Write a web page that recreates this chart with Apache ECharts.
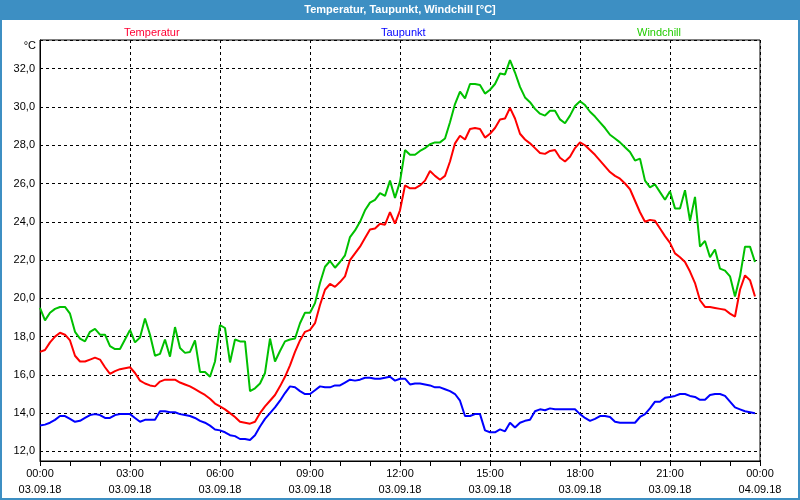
<!DOCTYPE html>
<html>
<head>
<meta charset="utf-8">
<title>Temperatur, Taupunkt, Windchill</title>
<script src="https://cdn.jsdelivr.net/npm/echarts@6.0.0/dist/echarts.min.js"></script>
<style>
    html, body { margin: 0; padding: 0; background: #fff; }
    #chart { width: 800px; height: 500px; }
</style>
</head>
<body>
<div id="chart"></div>
<script>
// Messwerte 03.09.18, alle 10 Minuten (Minuten ab 00:00)
var stepMin = 10;
var tickLabelsY = [12, 14, 16, 18, 20, 22, 24, 26, 28, 30, 32];

var temperatur = [
    17.2, 17.3, 17.7, 18.0, 18.2, 18.1, 17.8, 17.0, 16.7, 16.7,
    16.8, 16.9, 16.8, 16.4, 16.05, 16.2, 16.3, 16.35, 16.4, 16.1,
    15.7, 15.55, 15.45, 15.4, 15.65, 15.75, 15.75, 15.75, 15.6, 15.5,
    15.4, 15.25, 15.1, 14.95, 14.75, 14.5, 14.35, 14.2, 14.0, 13.8,
    13.55, 13.5, 13.45, 13.55, 14.0, 14.35, 14.65, 14.95, 15.4, 15.9,
    16.5, 17.2, 17.8, 18.25, 18.35, 18.7, 19.65, 20.45, 20.75, 20.6,
    20.85, 21.15, 22.0, 22.35, 22.7, 23.15, 23.6, 23.65, 23.9, 23.85,
    24.5, 23.9, 24.6, 25.9, 25.75, 25.75, 25.9, 26.15, 26.65, 26.4,
    26.2, 26.4, 27.15, 28.1, 28.5, 28.3, 28.85, 28.9, 28.85, 28.4,
    28.6, 28.9, 29.35, 29.4, 29.95, 29.4, 28.6, 28.3, 28.1, 27.85,
    27.6, 27.55, 27.7, 27.75, 27.35, 27.15, 27.4, 27.85, 28.15, 28.0,
    27.75, 27.5, 27.2, 26.9, 26.6, 26.4, 26.25, 26.0, 25.7, 25.1,
    24.5, 24.0, 24.1, 24.05, 23.65, 23.25, 22.9, 22.35, 22.15, 21.9,
    21.4, 20.8, 19.9, 19.55, 19.55, 19.5, 19.45, 19.4, 19.2, 19.05,
    20.45, 21.2, 20.95, 20.1
];

var taupunkt = [
    13.35, 13.4, 13.5, 13.65, 13.85, 13.85, 13.7, 13.55, 13.6, 13.75,
    13.9, 13.95, 13.9, 13.75, 13.75, 13.9, 13.95, 13.95, 13.95, 13.75,
    13.55, 13.65, 13.65, 13.65, 14.1, 14.1, 14.05, 14.05, 13.95, 13.9,
    13.85, 13.75, 13.6, 13.5, 13.35, 13.15, 13.1, 13.0, 12.85, 12.8,
    12.65, 12.65, 12.6, 12.85, 13.3, 13.7, 14.0, 14.3, 14.65, 15.05,
    15.4, 15.35, 15.15, 15.0, 15.0, 15.2, 15.4, 15.35, 15.35, 15.45,
    15.45, 15.6, 15.75, 15.7, 15.75, 15.85, 15.85, 15.8, 15.8, 15.85,
    15.9, 15.7, 15.8, 15.8, 15.5, 15.55, 15.55, 15.5, 15.45, 15.35,
    15.35, 15.25, 15.15, 15.0, 14.65, 13.85, 13.85, 13.95, 13.95, 13.1,
    13.0, 13.0, 13.15, 13.05, 13.5, 13.25, 13.5, 13.6, 13.65, 14.1,
    14.2, 14.15, 14.25, 14.2, 14.2, 14.2, 14.2, 14.2, 13.95, 13.75,
    13.6, 13.7, 13.85, 13.85, 13.8, 13.55, 13.5, 13.5, 13.5, 13.5,
    13.8, 13.95, 14.25, 14.6, 14.6, 14.8, 14.85, 14.9, 15.0, 15.0,
    14.9, 14.85, 14.7, 14.7, 14.95, 15.0, 15.0, 14.9, 14.6, 14.3,
    14.2, 14.1, 14.05, 14.0
];

var windchill = [
    19.5, 18.85, 19.25, 19.45, 19.55, 19.55, 19.2, 18.25, 17.9, 17.75,
    18.25, 18.4, 18.1, 18.1, 17.5, 17.35, 17.35, 17.85, 18.35, 17.7,
    17.95, 18.95, 18.1, 17.0, 17.1, 17.85, 16.95, 18.5, 17.4, 17.15,
    17.2, 17.8, 16.15, 16.15, 15.9, 16.7, 18.6, 18.45, 16.65, 17.85,
    17.75, 17.75, 15.15, 15.3, 15.55, 16.1, 17.9, 16.7, 17.25, 17.75,
    17.85, 17.9, 18.7, 19.25, 19.25, 19.75, 20.8, 21.65, 21.95, 21.6,
    21.9, 22.25, 23.2, 23.55, 24.0, 24.6, 25.0, 25.15, 25.5, 25.35,
    26.15, 25.25, 26.1, 27.75, 27.5, 27.5, 27.7, 27.85, 28.05, 28.15,
    28.15, 28.35, 29.2, 30.15, 30.8, 30.45, 31.2, 31.2, 31.15, 30.7,
    30.9, 31.2, 31.75, 31.7, 32.45, 31.8, 31.05, 30.5, 30.25, 29.9,
    29.65, 29.55, 29.8, 29.8, 29.35, 29.15, 29.55, 30.05, 30.3, 30.1,
    29.75, 29.5, 29.2, 28.9, 28.55, 28.35, 28.15, 27.9, 27.65, 27.2,
    27.3, 26.15, 25.8, 25.95, 25.55, 25.15, 25.6, 24.7, 24.7, 25.65,
    24.05, 25.3, 22.7, 23.0, 22.15, 22.55, 21.55, 21.45, 21.15, 20.1,
    21.15, 22.7, 22.7, 21.9
];

var FONT = 'Liberation Sans';

function toPairs(arr) {
    var out = [];
    for (var i = 0; i < arr.length; i++) {
        out.push([i * stepMin, arr[i]]);
    }
    return out;
}

function pad(n) { return n < 10 ? '0' + n : '' + n; }

var chart = echarts.init(document.getElementById('chart'));

var option = {
    animation: false,
    backgroundColor: '#ffffff',
    textStyle: { fontFamily: FONT },
    graphic: [
        {
            type: 'rect',
            shape: { x: 0, y: 0, width: 800, height: 20 },
            style: { fill: '#3d8fc3' },
            silent: true
        },
        {
            type: 'rect',
            shape: { x: 1, y: 1, width: 798, height: 498 },
            style: { fill: null, stroke: '#3d8fc3', lineWidth: 2 },
            silent: true
        },
        {
            type: 'text',
            x: 400, y: 10,
            style: {
                text: 'Temperatur, Taupunkt, Windchill [°C]',
                fill: '#ffffff',
                font: 'bold 11px "Liberation Sans"',
                align: 'center',
                verticalAlign: 'middle'
            },
            silent: true
        },
        {
            type: 'text',
            x: 36, y: 46,
            style: {
                text: '°C',
                fill: '#000000',
                font: '11px "Liberation Sans"',
                align: 'right',
                verticalAlign: 'middle'
            },
            silent: true
        }
    ],
    legend: [
        {
            left: 114, top: 21, icon: 'none', itemWidth: 0, selectedMode: false,
            data: [{ name: 'Temperatur', textStyle: { color: '#ff0033' } }],
            textStyle: { fontFamily: FONT, fontSize: 11 }
        },
        {
            left: 371, top: 21, icon: 'none', itemWidth: 0, selectedMode: false,
            data: [{ name: 'Taupunkt', textStyle: { color: '#0000ff' } }],
            textStyle: { fontFamily: FONT, fontSize: 11 }
        },
        {
            left: 627, top: 21, icon: 'none', itemWidth: 0, selectedMode: false,
            data: [{ name: 'Windchill', textStyle: { color: '#22cc00' } }],
            textStyle: { fontFamily: FONT, fontSize: 11 }
        }
    ],
    grid: {
        left: 40, right: 40, top: 40, bottom: 39,
        show: true, borderColor: '#000', borderWidth: 1,
        backgroundColor: 'transparent'
    },
    xAxis: {
        type: 'value',
        min: 0, max: 1440, interval: 180,
        axisLine: { lineStyle: { color: '#000', width: 1 } },
        axisTick: { show: true, inside: false, length: 5, lineStyle: { color: '#000' } },
        minorTick: { show: true, splitNumber: 3, length: 5, lineStyle: { color: '#000' } },
        splitLine: { show: true, lineStyle: { color: '#000', type: [3, 3], width: 1 } },
        axisLabel: {
            color: '#000', fontFamily: FONT, fontSize: 11, margin: 5, lineHeight: 16,
            formatter: function(v) {
                var day = 3 + Math.floor(v / 1440);
                var m = v % 1440;
                return pad(Math.floor(m / 60)) + ':' + pad(m % 60) + '\n' + pad(day) + '.09.18';
            }
        }
    },
    yAxis: {
        type: 'value',
        min: 11.5, max: 33.5, splitNumber: 11,
        axisLine: { show: true, lineStyle: { color: '#000', width: 1 } },
        axisTick: { show: false },
        splitLine: { show: true, lineStyle: { color: '#000', type: [3, 3], width: 1 } },
        axisLabel: {
            color: '#000', fontFamily: FONT, fontSize: 11, margin: 5,
            showMinLabel: false, showMaxLabel: false,
            formatter: function(v) {
                if (tickLabelsY.indexOf(v) < 0) return '';
                return v.toFixed(1).replace('.', ',');
            }
        }
    },
    series: [
        {
            name: 'Temperatur', type: 'line', data: toPairs(temperatur),
            showSymbol: false, color: '#ff0000',
            lineStyle: { width: 2, color: '#ff0000' }, z: 3
        },
        {
            name: 'Taupunkt', type: 'line', data: toPairs(taupunkt),
            showSymbol: false, color: '#0000ff',
            lineStyle: { width: 2, color: '#0000ff' }, z: 3
        },
        {
            name: 'Windchill', type: 'line', data: toPairs(windchill),
            showSymbol: false, color: '#00c000',
            lineStyle: { width: 2, color: '#00c000' }, z: 3
        }
    ]
};

chart.setOption(option);
</script>
</body>
</html>
